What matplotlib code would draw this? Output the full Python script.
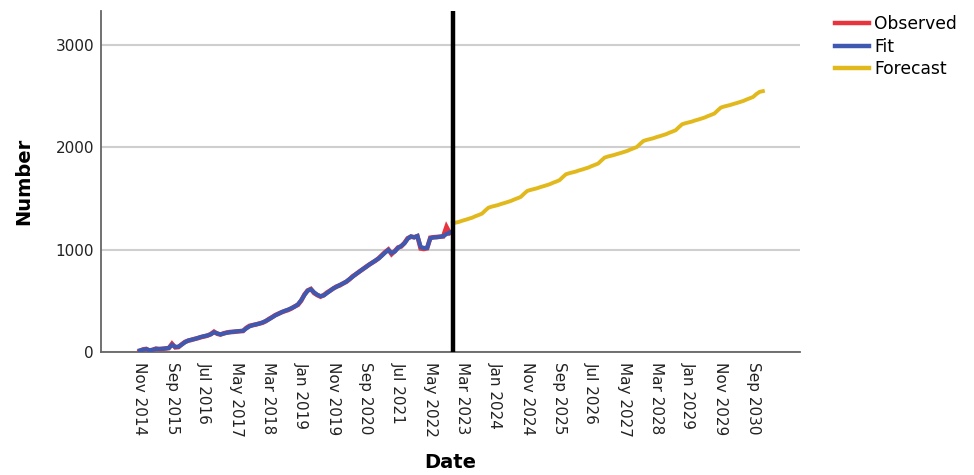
import numpy as np
import matplotlib
matplotlib.use("Agg")
import matplotlib.pyplot as plt
from matplotlib.lines import Line2D

# Monthly series, month 0 = Nov 2014
observed = [10, 25, 30, 12, 20, 33, 28, 30, 35, 38, 80, 45, 48, 75, 98, 110, 118, 128,
            135, 145, 152, 160, 175, 198, 178, 170, 182, 190, 195, 196, 200, 203, 205,
            235, 255, 262, 268, 278, 285, 300, 322, 340, 360, 375, 388, 400, 410, 425,
            445, 460, 500, 560, 600, 615, 575, 555, 540, 555, 580, 600, 620, 640, 650,
            670, 685, 710, 740, 760, 785, 805, 830, 850, 872, 890, 915, 945, 975, 1000,
            955, 985, 1020, 1030, 1065, 1110, 1125, 1120, 1130, 1010, 1005, 1012, 1115,
            1120, 1122, 1125, 1128, 1220, 1160]
fit = [15, 22, 28, 18, 22, 30, 30, 32, 34, 40, 70, 50, 52, 72, 95, 112, 120, 126,
       137, 147, 155, 162, 172, 192, 182, 172, 180, 188, 193, 198, 201, 204, 207,
       230, 250, 262, 270, 276, 288, 302, 318, 338, 358, 372, 390, 402, 414, 428,
       442, 465, 505, 555, 598, 612, 582, 558, 545, 552, 575, 598, 622, 636, 655,
       668, 688, 712, 735, 762, 782, 808, 826, 852, 870, 893, 912, 940, 970, 995,
       965, 980, 1015, 1035, 1060, 1105, 1128, 1118, 1132, 1025, 1015, 1015, 1110,
       1118, 1120, 1124, 1130, 1150, 1165]
forecast = [1257, 1263, 1271, 1282, 1291, 1301, 1311, 1325, 1337, 1350, 1380, 1408, 1418,
            1426, 1434, 1445, 1454, 1464, 1474, 1488, 1500, 1513, 1543, 1571, 1581,
            1589, 1597, 1608, 1617, 1627, 1637, 1651, 1663, 1676, 1706, 1734, 1744,
            1752, 1760, 1771, 1780, 1790, 1800, 1814, 1826, 1839, 1869, 1897, 1907,
            1915, 1923, 1933, 1942, 1952, 1962, 1976, 1988, 2001, 2031, 2059, 2069,
            2077, 2085, 2096, 2105, 2115, 2125, 2139, 2151, 2164, 2194, 2222, 2232,
            2240, 2248, 2259, 2268, 2278, 2288, 2302, 2314, 2327, 2357, 2385, 2395,
            2403, 2411, 2421, 2430, 2440, 2450, 2464, 2476, 2489, 2517, 2538, 2545]
forecast_start = 97  # Dec 2022

tick_labels = ["Nov 2014", "Sep 2015", "Jul 2016", "May 2017", "Mar 2018", "Jan 2019",
               "Nov 2019", "Sep 2020", "Jul 2021", "May 2022", "Mar 2023", "Jan 2024",
               "Nov 2024", "Sep 2025", "Jul 2026", "May 2027", "Mar 2028", "Jan 2029",
               "Nov 2029", "Sep 2030"]
tick_step = 10

RED = "#e8343c"
BLUE = "#3f58b0"
GOLD = "#e2b91d"

fig = plt.figure(figsize=(9.74, 4.75), dpi=100)
ax = fig.add_axes([101 / 974, 1 - 352 / 475, (800 - 101) / 974, (352 - 11) / 475])

x_obs = np.arange(len(observed))
x_fit = np.arange(len(fit))
x_fc = forecast_start + np.arange(len(forecast))

ax.plot(x_obs, observed, color=RED, lw=3.3, solid_joinstyle="miter", zorder=3)
ax.plot(x_fit, fit, color=BLUE, lw=3.0, solid_joinstyle="miter", zorder=4)
ax.plot(x_fc, forecast, color=GOLD, lw=2.8, solid_joinstyle="round", zorder=3)
ax.axvline(forecast_start, color="black", lw=3.2, zorder=5)

ax.set_xlim(-12, 204.5)
ax.set_ylim(0, 3327)
ax.set_yticks([0, 1000, 2000, 3000])
ax.set_xticks(np.arange(len(tick_labels)) * tick_step)
ax.set_xticklabels(tick_labels, rotation=-90, va="top", ha="center")
ax.tick_params(axis="both", length=0, labelsize=11, labelcolor="#222222")
ax.tick_params(axis="x", pad=7)
ax.tick_params(axis="y", pad=5)

ax.grid(axis="y", color="#cfcfcf", lw=1.5, zorder=0)
ax.set_axisbelow(True)
for side in ("top", "right"):
    ax.spines[side].set_visible(False)
for side in ("left", "bottom"):
    ax.spines[side].set_color("#666666")
    ax.spines[side].set_linewidth(1.3)

ax.set_ylabel("Number", fontsize=14, fontweight="bold", labelpad=16)
ax.set_xlabel("Date", fontsize=14, fontweight="bold", labelpad=12)

handles = [Line2D([], [], color=RED, lw=3.2),
           Line2D([], [], color=BLUE, lw=3.2),
           Line2D([], [], color=GOLD, lw=3.2)]
fig.legend(handles, ["Observed", "Fit", "Forecast"], loc="upper left",
           bbox_to_anchor=(828 / 974, 1 - 8 / 475), frameon=False, fontsize=12.3,
           handlelength=2.0, handletextpad=0.3, labelspacing=0.28, borderaxespad=0)

fig.savefig("out.png", dpi=100)
